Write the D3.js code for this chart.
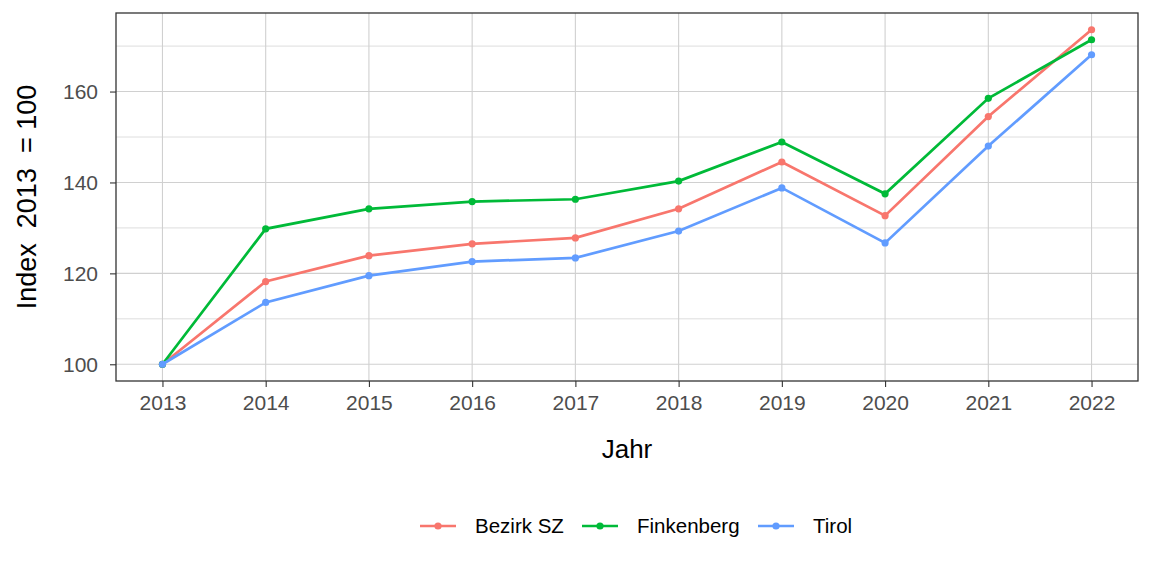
<!DOCTYPE html>
<html>
<head>
<meta charset="utf-8">
<script src="https://cdn.jsdelivr.net/npm/d3@7"></script>
<style>
  body { margin: 0; background: #fff; }
  svg { font-family: "Liberation Sans", Arial, sans-serif; }
</style>
</head>
<body>
<div id="chart"></div>
<script>
var years = [2013, 2014, 2015, 2016, 2017, 2018, 2019, 2020, 2021, 2022];
var seriesNames = ["Bezirk SZ", "Finkenberg", "Tirol"];
var bezirkSZ = [100, 118.2, 123.9, 126.5, 127.8, 134.2, 144.5, 132.7, 154.5, 173.6];
var finkenberg = [100, 129.8, 134.2, 135.8, 136.3, 140.3, 148.9, 137.5, 158.5, 171.4];
var tirol = [100, 113.6, 119.5, 122.6, 123.4, 129.3, 138.8, 126.7, 148.0, 168.1];
var yTicks = [100, 120, 140, 160];
var yMinor = [110, 130, 150, 170];
var colors = ["#F8766D", "#00BA38", "#619CFF"];

var width = 1152, height = 576;
var margin = {top: 13, right: 14, bottom: 195, left: 116};
var plotW = width - margin.left - margin.right;
var plotH = height - margin.top - margin.bottom;

var svg = d3.select("#chart").append("svg")
    .attr("width", width)
    .attr("height", height);

var series = [bezirkSZ, finkenberg, tirol].map(function(vals, i) {
    return {
        name: seriesNames[i],
        color: colors[i],
        values: vals.map(function(v, j) { return {year: years[j], value: v}; })
    };
});

var allVals = bezirkSZ.concat(finkenberg, tirol);
var yMin = d3.min(allVals), yMax = d3.max(allVals);
var yPad = (yMax - yMin) * 0.05;
var xPad = (years[years.length - 1] - years[0]) * 0.05;

var x = d3.scaleLinear()
    .domain([years[0] - xPad, years[years.length - 1] + xPad])
    .range([0, plotW]);
var y = d3.scaleLinear()
    .domain([yMin - yPad, yMax + yPad])
    .range([plotH, 0]);

var g = svg.append("g")
    .attr("transform", "translate(" + margin.left + "," + margin.top + ")");

// grid
g.selectAll(".minor")
    .data(yMinor)
    .enter().append("line")
    .attr("x1", 0).attr("x2", plotW)
    .attr("y1", function(d) { return y(d); })
    .attr("y2", function(d) { return y(d); })
    .style("stroke", "#d6d6d6").style("stroke-width", 0.8);
g.selectAll(".majorY")
    .data(yTicks)
    .enter().append("line")
    .attr("x1", 0).attr("x2", plotW)
    .attr("y1", function(d) { return y(d); })
    .attr("y2", function(d) { return y(d); })
    .style("stroke", "#d0d0d0").style("stroke-width", 1.1);
g.selectAll(".majorX")
    .data(years)
    .enter().append("line")
    .attr("y1", 0).attr("y2", plotH)
    .attr("x1", function(d) { return x(d); })
    .attr("x2", function(d) { return x(d); })
    .style("stroke", "#d0d0d0").style("stroke-width", 1.1);

// axes
var xAxis = g.append("g")
    .attr("transform", "translate(0," + plotH + ")")
    .call(d3.axisBottom(x).tickValues(years).tickFormat(d3.format("d")).tickSize(6).tickPadding(8));
var yAxis = g.append("g")
    .call(d3.axisLeft(y).tickValues(yTicks).tickSize(6).tickPadding(12));
[xAxis, yAxis].forEach(function(ax) {
    ax.select(".domain").remove();
    ax.selectAll(".tick line").style("stroke", "#333").style("stroke-width", 1.1);
    ax.selectAll(".tick text").style("fill", "#4d4d4d").style("font-size", "21px")
        .style("font-family", "Liberation Sans, Arial, sans-serif");
});

// lines and points
var line = d3.line()
    .x(function(d) { return x(d.year); })
    .y(function(d) { return y(d.value); });

series.forEach(function(s) {
    g.append("path")
        .datum(s.values)
        .attr("d", line)
        .style("fill", "none")
        .style("stroke", s.color)
        .style("stroke-width", 2.7);
    g.selectAll(null)
        .data(s.values)
        .enter().append("circle")
        .attr("cx", function(d) { return x(d.year); })
        .attr("cy", function(d) { return y(d.value); })
        .attr("r", 3.6)
        .style("fill", s.color);
});

// panel border
g.append("rect")
    .attr("width", plotW).attr("height", plotH)
    .style("fill", "none").style("stroke", "#333").style("stroke-width", 1.3);

// axis titles
svg.append("text")
    .attr("x", margin.left + plotW / 2)
    .attr("y", 458)
    .attr("text-anchor", "middle")
    .style("font-size", "26px")
    .text("Jahr");

svg.append("g")
    .attr("transform", "translate(36," + (margin.top + plotH / 2) + ")")
    .append("text")
    .attr("transform", "rotate(-90)")
    .attr("text-anchor", "middle")
    .style("font-size", "27px")
    .style("white-space", "pre")
    .attr("xml:space", "preserve")
    .text("Index  2013  = 100");

// legend
var legendX = [420, 582, 758];
var legendY = 526;
var legend = svg.selectAll(".legend")
    .data(series)
    .enter().append("g")
    .attr("transform", function(d, i) { return "translate(" + legendX[i] + "," + legendY + ")"; });
legend.append("line")
    .attr("x1", 0).attr("x2", 36)
    .style("stroke", function(d) { return d.color; })
    .style("stroke-width", 2.7);
legend.append("circle")
    .attr("cx", 18).attr("r", 3.6)
    .style("fill", function(d) { return d.color; });
legend.append("text")
    .attr("x", 55)
    .attr("dy", "0.35em")
    .style("font-size", "20.5px")
    .text(function(d) { return d.name; });
</script>
</body>
</html>
